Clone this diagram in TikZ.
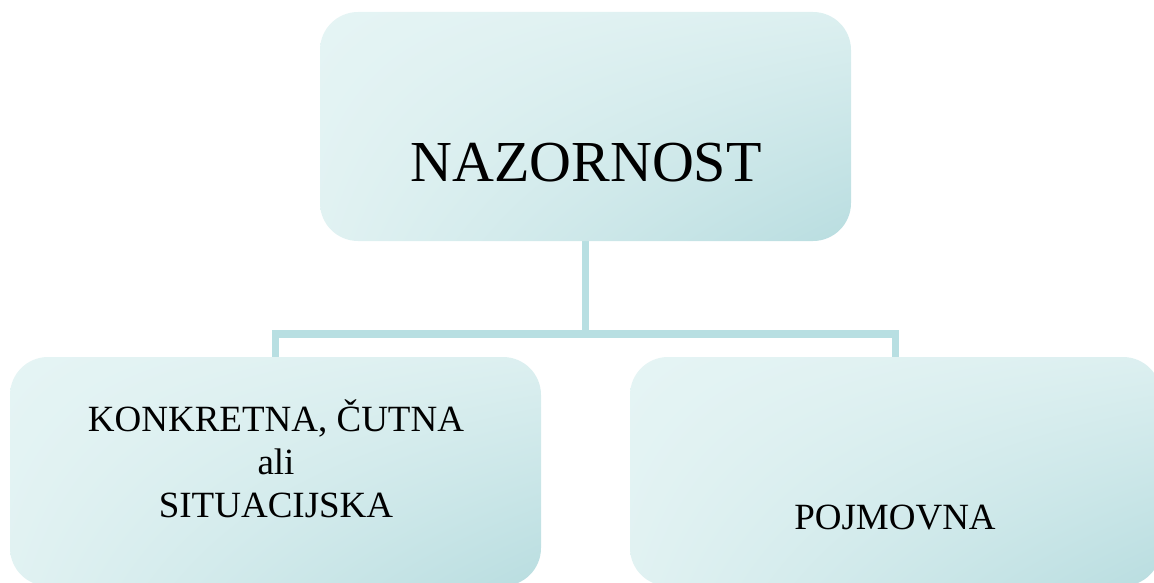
\documentclass[tikz,border=0pt]{standalone}
\usepackage{fontspec}
\setmainfont{Liberation Serif}
\usetikzlibrary{backgrounds}
\definecolor{linkcol}{HTML}{B8DFE2}
\pgfdeclarefunctionalshading{boxshade}{\pgfpoint{-50bp}{-50bp}}{\pgfpoint{50bp}{50bp}}{}{
  25 exch sub 50 div
  exch 25 add 50 div
  2 copy mul 0.7 mul
  exch 0.2 mul add
  exch 0.1 mul add
  dup dup -0.173 mul 0.898 add 3 1 roll -0.090 mul 0.957 add exch -0.079 mul 0.957 add
}
\begin{document}
\begin{tikzpicture}[x=1pt,y=-1pt,
  box/.style={rounded corners=38pt, minimum width=531pt, minimum height=229pt,
    inner sep=0pt, shading=boxshade, draw=none},
  link/.style={draw=linkcol, line width=7.5pt},
  bigtext/.style={font=\fontsize{58}{68}\selectfont, inner sep=0pt},
  smalltext/.style={font=\fontsize{37}{43}\selectfont, inner sep=0pt, align=center}]
\useasboundingbox (0,0) rectangle (1154,583);
\node[box] (top) at (585.5,126.5) {};
\node[box] (left) at (275.5,471.5) {};
\node[box] (right) at (895.5,471.5) {};
\node[bigtext, anchor=base] (topT) at (586,182) {NAZORNOST};
\node[smalltext, anchor=center] (leftT) at (276,459) {KONKRETNA, ČUTNA\\ali\\SITUACIJSKA};
\node[smalltext, anchor=base] (rightT) at (895,529) {POJMOVNA};
\coordinate (j) at (585.5,334);
\begin{pgfonlayer}{background}
\draw[link] (top.south) -- (j);
\draw[link] (left.north) |- (j) -| (right.north);
\end{pgfonlayer}
\end{tikzpicture}
\end{document}
